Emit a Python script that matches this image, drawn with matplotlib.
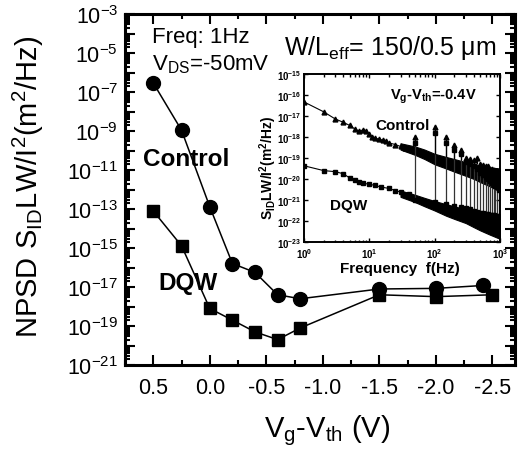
import matplotlib
matplotlib.use("Agg")
import matplotlib.pyplot as plt
import numpy as np
from matplotlib.ticker import FixedLocator, MultipleLocator, NullFormatter

plt.rcParams['font.family'] = ['Liberation Sans', 'DejaVu Sans']
plt.rcParams['mathtext.fontset'] = 'custom'
plt.rcParams['mathtext.rm'] = 'Liberation Sans'
plt.rcParams['mathtext.it'] = 'Liberation Sans'
plt.rcParams['mathtext.bf'] = 'Liberation Sans:bold'
plt.rcParams['mathtext.default'] = 'regular'
plt.rcParams['axes.unicode_minus'] = False

# main plot data: NPSD at 1 Hz vs gate overdrive
vg_control = [0.5, 0.25, 0.0, -0.2, -0.4, -0.6, -0.8, -1.5, -2.0, -2.42]
npsd_control = [2.9e-7, 1.1e-9, 1.3e-13, 1.6e-16, 5.6e-17, 4.0e-18, 2.5e-18, 7.9e-18, 8.5e-18, 1.2e-17]
vg_dqw = [0.5, 0.25, 0.0, -0.2, -0.4, -0.6, -0.8, -1.5, -2.0, -2.5]
npsd_dqw = [7.9e-14, 1.3e-15, 7.9e-19, 2.0e-19, 5.0e-20, 2.0e-20, 7.9e-20, 4.0e-18, 3.2e-18, 4.0e-18]

xticks = [0.5, 0.0, -0.5, -1.0, -1.5, -2.0, -2.5]
xtick_labels = ['0.5', '0.0', '-0.5', '-1.0', '-1.5', '-2.0', '-2.5']

# inset data (log10 of S_ID*LW/I^2) at Vg-Vth = -0.4 V
ctrl_f = [1, 2, 3, 4, 5, 6, 7, 8, 9, 10, 11, 12, 14, 16, 18, 20, 25, 30, 35, 40]
ctrl_log = [-16.33, -16.8, -17.14, -17.3, -17.45, -17.62, -17.72, -17.66, -17.7, -17.88,
            -18.02, -18.05, -18.1, -18.15, -18.2, -18.28, -18.36, -18.45, -18.5, -18.55]
dqw_f = [1, 2, 3, 4, 5, 6, 7, 8, 10, 12, 15, 20, 25, 30, 40]
dqw_log = [-19.37, -19.6, -19.65, -19.75, -19.95, -20.05, -20.12, -20.2, -20.25, -20.3,
           -20.38, -20.45, -20.55, -20.62, -20.72]

# dense noisy part of the spectra: upper / lower envelope
band_f = [30, 50, 70, 100, 150, 200, 300, 400, 500, 700, 1000]
ctrl_hi_log = [-18.3, -18.45, -18.6, -18.8, -18.95, -19.05, -19.2, -19.3, -19.35, -19.45, -19.5]
ctrl_lo_log = [-18.6, -18.85, -19.05, -19.3, -19.5, -19.65, -19.85, -20.0, -20.15, -20.35, -20.6]
dqw_hi_log = [-20.55, -20.75, -20.9, -21.05, -21.2, -21.3, -21.45, -21.55, -21.6, -21.7, -21.75]
dqw_lo_log = [-20.85, -21.1, -21.3, -21.5, -21.75, -21.9, -22.1, -22.3, -22.45, -22.65, -22.85]

# 50 Hz line harmonics
spike_f = [50, 100, 150, 200, 250, 300, 350, 400, 450, 500, 550, 600, 650, 700, 750, 800, 850, 900, 950]
ctrl_spike_log = [-18.0, -17.5, -18.0, -18.4, -18.6, -19.0, -19.05, -19.1, -19.0, -19.3,
                  -19.35, -19.4, -19.4, -19.5, -19.5, -19.55, -19.6, -19.6, -19.65]
ctrl_spike_base_log = [-18.45, -18.8, -18.95, -19.05, -19.1, -19.2, -19.25, -19.3, -19.3, -19.35,
                       -19.38, -19.4, -19.42, -19.45, -19.46, -19.47, -19.48, -19.49, -19.5]
dqw_spike_log = [-18.3, -17.8, -18.3, -18.6, -18.8, -19.2, -19.3, -19.4, -19.5, -19.7,
                 -19.8, -19.9, -20.0, -20.1, -20.2, -20.3, -20.35, -20.4, -20.5]
dqw_spike_base_log = [-21.0, -21.1, -21.2, -21.3, -21.35, -21.4, -21.45, -21.5, -21.55, -21.6,
                      -21.6, -21.65, -21.65, -21.7, -21.7, -21.7, -21.75, -21.75, -21.75]

W, H = 519, 456
fig = plt.figure(figsize=(W / 100, H / 100), dpi=100)

def fx(px):
    return px / W

def fy(py):
    return 1 - py / H

# ---- main axes
ax = fig.add_axes([fx(125), fy(366), fx(515) - fx(125), fy(15) - fy(366)])
ax.plot(vg_control, npsd_control, '-o', color='black', ms=10, lw=1.1)
ax.plot(vg_dqw, npsd_dqw, '-s', color='black', ms=9, lw=1.1)
ax.set_yscale('log')
ax.set_ylim(1e-21, 1e-3)
ax.set_xlim(0.75, -2.7)

ax.set_xticks(xticks)
ax.set_xticklabels(xtick_labels)
ax.xaxis.set_minor_locator(MultipleLocator(0.25))

decades = list(range(-21, -2))
ax.yaxis.set_major_locator(FixedLocator([10.0 ** e for e in decades]))
ax.set_yticklabels(['10$^{%d}$' % e if e % 2 else '' for e in decades])
ax.yaxis.set_minor_locator(FixedLocator([s * 10.0 ** e for e in decades for s in range(2, 10)]))
ax.yaxis.set_minor_formatter(NullFormatter())

ax.tick_params(which='both', direction='in', top=True, right=True, width=1.5, colors='black')
ax.tick_params(which='major', length=7, labelsize=15.5)
ax.tick_params(which='minor', length=3.5)
ax.tick_params(axis='x', which='major', pad=9)
ax.tick_params(axis='y', which='major', pad=5)
for s in ax.spines.values():
    s.set_linewidth(2.2)

fig.text(fx(38), fy(187), 'NPSD S$_{ID}$LW/I$^{2}$(m$^{2}$/Hz)', rotation=90,
         ha='center', va='baseline', rotation_mode='anchor', fontsize=21)
fig.text(fx(327), fy(437), 'V$_{g}$-V$_{th}$ (V)', ha='center', va='baseline', fontsize=21)

fig.text(fx(152), fy(43), 'Freq: 1Hz', fontsize=16, va='baseline')
fig.text(fx(152), fy(70), 'V$_{DS}$=-50mV', fontsize=16, va='baseline')
fig.text(fx(284), fy(55), 'W/L$_{eff}$= 150/0.5 μm', fontsize=18, va='baseline')
fig.text(fx(143), fy(166), 'Control', fontsize=17.5, fontweight='bold', va='baseline')
fig.text(fx(158), fy(290), 'DQW', fontsize=17.5, fontweight='bold', va='baseline')

# ---- inset
ins = fig.add_axes([fx(304), fy(243), fx(500) - fx(304), fy(75) - fy(243)])
ins.set_xscale('log')
ins.set_yscale('log')

bf = np.array(band_f)
ins.fill_between(bf, 10.0 ** np.array(ctrl_lo_log), 10.0 ** np.array(ctrl_hi_log),
                 color='black', lw=0.8, edgecolor='black')
ins.fill_between(bf, 10.0 ** np.array(dqw_lo_log), 10.0 ** np.array(dqw_hi_log),
                 color='black', lw=0.8, edgecolor='black')

ins.vlines(spike_f, 10.0 ** np.array(dqw_spike_base_log), 10.0 ** np.array(dqw_spike_log),
           color='#333333', lw=0.9)
ins.vlines(spike_f, 10.0 ** np.array(ctrl_spike_base_log), 10.0 ** np.array(ctrl_spike_log),
           color='black', lw=0.9)

ins.plot(ctrl_f, 10.0 ** np.array(ctrl_log), '-^', color='black', ms=3.5, lw=0.8)
ins.plot(dqw_f, 10.0 ** np.array(dqw_log), '-s', color='black', ms=3.2, lw=0.8)
ins.plot(spike_f, 10.0 ** np.array(ctrl_spike_log), '^', color='black', ms=3.5)
ins.plot(spike_f, 10.0 ** np.array(dqw_spike_log), 's', color='black', ms=3.2)
ins.plot(spike_f, 10.0 ** np.array(dqw_spike_base_log), 's', color='black', ms=3.2)

ins.set_xlim(1, 1000)
ins.set_ylim(1e-23, 1e-15)
ins.xaxis.set_major_locator(FixedLocator([1, 10, 100, 1000]))
ins.set_xticklabels([r'$\mathbf{10^{%d}}$' % e for e in range(0, 4)])
ins.xaxis.set_minor_locator(FixedLocator([s * 10.0 ** e for e in range(0, 3) for s in range(2, 10)]))
ins.xaxis.set_minor_formatter(NullFormatter())
inset_dec = list(range(-23, -14))
ins.yaxis.set_major_locator(FixedLocator([10.0 ** e for e in inset_dec]))
ins.set_yticklabels([r'$\mathbf{10^{%d}}$' % e for e in inset_dec])
ins.yaxis.set_minor_locator(FixedLocator([]))
ins.tick_params(which='both', direction='in', top=True, right=True, width=1.0)
ins.tick_params(which='major', length=3, labelsize=7, pad=2)
ins.tick_params(axis='x', which='major', pad=3)
ins.tick_params(which='minor', length=1.8)
for s in ins.spines.values():
    s.set_linewidth(1.4)

fig.text(fx(390), fy(100), r'V$_\mathbf{g}$-V$_\mathbf{th}$=-0.4V', fontsize=10.5,
         fontweight='bold', va='baseline')
fig.text(fx(375), fy(130), 'Control', fontsize=11, fontweight='bold', va='baseline')
fig.text(fx(330), fy(210), 'DQW', fontsize=11, fontweight='bold', va='baseline')
fig.text(fx(400), fy(273), 'Frequency  f(Hz)', fontsize=11, fontweight='bold',
         ha='center', va='baseline')
fig.text(fx(273), fy(168), r'S$_\mathbf{ID}$LW/I$^\mathbf{2}$(m$^\mathbf{2}$/Hz)', rotation=90,
         fontsize=10, fontweight='bold', ha='center', va='baseline', rotation_mode='anchor')

fig.savefig('out.png', dpi=100)
